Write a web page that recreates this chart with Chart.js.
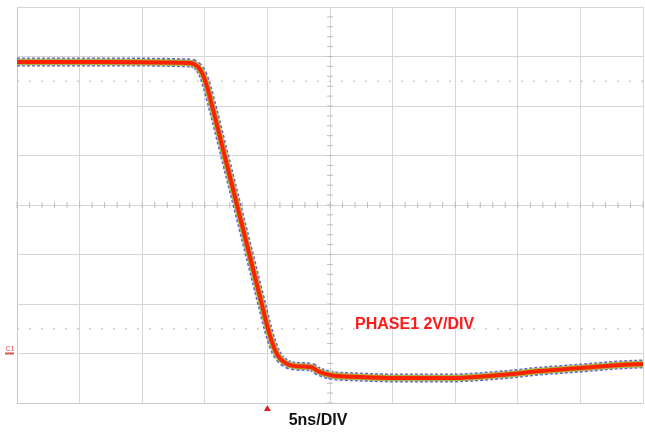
<!DOCTYPE html>
<html>
<head>
<meta charset="utf-8">
<script src="https://cdn.jsdelivr.net/npm/chart.js@4/dist/chart.umd.min.js"></script>
<style>
  html, body { margin: 0; padding: 0; background: #fff; }
  #wrap { width: 645px; height: 432px; position: relative; }
</style>
</head>
<body>
<div id="wrap"><canvas id="c"></canvas></div>
<script>
// time in ns (5ns/div, 10 div), voltage in V (2V/div, C1 ground at 0V)
const timeNs = [-25, -18.4, -11.2, -10.54, -10.14, -9.82, -9.35, -8.55, -7.43, -6.39, -5.43, -4.95, -4.55, -4.15, -3.59, -2.8, -2.0, -1.44, -0.96, 0, 2.4, 5.6, 9.6, 13.6, 16.8, 20.0, 23.2, 25];
const phase1V = [11.78, 11.78, 11.74, 11.58, 11.25, 10.77, 9.88, 8.26, 6.0, 3.9, 1.96, 0.99, 0.34, -0.1, -0.38, -0.51, -0.53, -0.56, -0.71, -0.87, -0.95, -0.99, -0.99, -0.87, -0.71, -0.59, -0.46, -0.42];
const cursorLevels = [11, 1];
const xLabel = '5ns/DIV';
const traceLabel = 'PHASE1 2V/DIV';

function traceData() {
  return timeNs.map((t, i) => ({ x: t, y: phase1V[i] }));
}

function cursor(v) {
  return {
    data: [{ x: -25, y: v }, { x: 25, y: v }],
    borderColor: '#c8c8c8',
    borderWidth: 1.5,
    borderDash: [2, 10],
    pointRadius: 0,
    fill: false,
    order: 5
  };
}

function traceSet(color, width, order, dash) {
  return {
    data: traceData(),
    borderColor: color,
    borderWidth: width,
    borderDash: dash || [],
    cubicInterpolationMode: 'monotone',
    pointRadius: 0,
    fill: false,
    order: order
  };
}

const scopeDecor = {
  id: 'scopeDecor',
  beforeDatasetsDraw(chart) {
    const ctx = chart.ctx;
    const xs = chart.scales.x, ys = chart.scales.y;
    ctx.save();
    // minor ticks on centre lines
    ctx.strokeStyle = '#bcbcbc';
    ctx.lineWidth = 1;
    const cy = ys.getPixelForValue(6), cx = xs.getPixelForValue(0);
    for (let t = -25; t <= 25; t += 1) {
      const px = xs.getPixelForValue(t);
      ctx.beginPath(); ctx.moveTo(px, cy - 3); ctx.lineTo(px, cy + 3); ctx.stroke();
    }
    for (let v = -2; v <= 14; v += 0.4) {
      const py = ys.getPixelForValue(v);
      ctx.beginPath(); ctx.moveTo(cx - 3, py); ctx.lineTo(cx + 3, py); ctx.stroke();
    }
    ctx.restore();
  },
  afterDraw(chart) {
    const ctx = chart.ctx;
    const xs = chart.scales.x, ys = chart.scales.y;
    const area = chart.chartArea;
    ctx.save();
    // trigger marker
    const tx = xs.getPixelForValue(-5);
    ctx.fillStyle = '#e02020';
    ctx.beginPath();
    ctx.moveTo(tx, area.bottom + 2);
    ctx.lineTo(tx - 3.5, area.bottom + 8);
    ctx.lineTo(tx + 3.5, area.bottom + 8);
    ctx.closePath(); ctx.fill();
    // C1 ground marker
    const gy = ys.getPixelForValue(0);
    ctx.fillStyle = '#e05050';
    ctx.font = '7px "Liberation Sans", Arial, sans-serif';
    ctx.textAlign = 'center';
    ctx.textBaseline = 'bottom';
    ctx.fillText('C1', area.left - 7, gy - 1);
    ctx.fillRect(area.left - 12, gy - 1, 9, 2);
    // labels
    ctx.font = 'bold 16px "Liberation Sans", Arial, sans-serif';
    ctx.fillStyle = '#ff1a1a';
    ctx.textAlign = 'left';
    ctx.textBaseline = 'middle';
    ctx.fillText(traceLabel, 355, 325);
    ctx.fillStyle = '#111';
    ctx.textAlign = 'center';
    ctx.fillText(xLabel, 318, 421);
    ctx.restore();
  }
};

new Chart(document.getElementById('c').getContext('2d'), {
  type: 'line',
  data: {
    datasets: [
      cursor(cursorLevels[0]),
      cursor(cursorLevels[1]),
      traceSet('rgba(70,70,215,0.85)', 9, 3, [3, 2]),
      traceSet('#a8b848', 6.5, 2),
      traceSet('#ff2200', 4, 1)
    ]
  },
  options: {
    responsive: true,
    maintainAspectRatio: false,
    animation: false,
    layout: { padding: { left: 17, right: 2, top: 7, bottom: 29 } },
    plugins: { legend: { display: false }, tooltip: { enabled: false } },
    scales: {
      x: {
        type: 'linear',
        min: -25,
        max: 25,
        ticks: { display: false, stepSize: 5 },
        grid: { color: '#d6d6d6', drawTicks: false },
        border: { color: '#c8c8c8' }
      },
      y: {
        min: -2,
        max: 14,
        ticks: { display: false, stepSize: 2 },
        grid: { color: '#d6d6d6', drawTicks: false },
        border: { color: '#c8c8c8' }
      }
    }
  },
  plugins: [scopeDecor]
});
</script>
</body>
</html>
